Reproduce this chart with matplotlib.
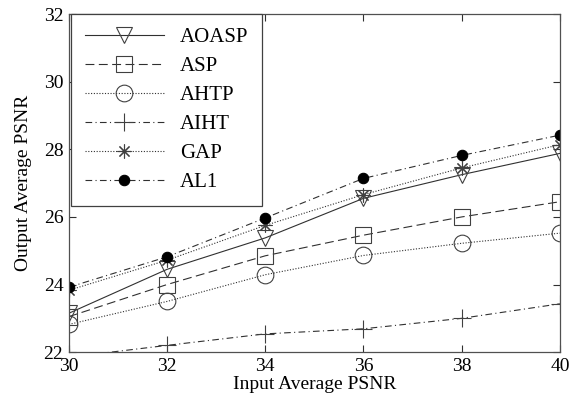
import matplotlib
matplotlib.use("Agg")
import matplotlib.pyplot as plt

x = [30, 32, 34, 36, 38, 40]
AOASP = [23.15, 24.45, 25.38, 26.55, 27.25, 27.88]
ASP = [23.05, 24.0, 24.85, 25.46, 26.0, 26.45]
AHTP = [22.82, 23.5, 24.29, 24.86, 25.22, 25.52]
AIHT = [21.85, 22.2, 22.54, 22.69, 23.0, 23.43]
GAP = [23.83, 24.72, 25.75, 26.66, 27.45, 28.14]
AL1 = [23.92, 24.82, 25.97, 27.14, 27.82, 28.42]
labels = ["AOASP", "ASP", "AHTP", "AIHT", "GAP", "AL1"]
xticks = [30, 32, 34, 36, 38, 40]
yticks = [22, 24, 26, 28, 30, 32]

plt.rcParams['font.family'] = ['Liberation Serif', 'DejaVu Serif']
plt.rcParams['font.size'] = 14

fig = plt.figure(figsize=(5.69, 3.93), dpi=100)
ax = fig.add_axes([0.121, 0.104, 0.863, 0.86])

lc = '#303030'
mc = '#404040'
styles = [
    dict(ls='-', marker='v', ms=12, mfc='none'),
    dict(ls=(0, (8, 4)), marker='s', ms=12, mfc='none'),
    dict(ls=(0, (1, 1.5)), marker='o', ms=12, mfc='none'),
    dict(ls=(0, (6, 3, 1, 3)), marker='+', ms=12.5, mfc='none'),
    dict(ls=(0, (1, 1.5)), marker=(8, 2, 0), ms=10, mfc='none'),
    dict(ls=(0, (6, 3, 1, 3)), marker='o', ms=7.5, mfc='black', mec='black'),
]
series = [AOASP, ASP, AHTP, AIHT, GAP, AL1]
for ys, lab, st in zip(series, labels, styles):
    kw = dict(color=lc, lw=0.8, mew=0.8)
    if 'mec' not in st:
        kw['mec'] = mc
    kw.update(st)
    ax.plot(x, ys, label=lab, clip_on=True, **kw)

ax.set_xlim(30, 40)
ax.set_ylim(22, 32)
ax.set_xticks(xticks)
ax.set_yticks(yticks)
ax.tick_params(direction='in', length=5, width=0.8, top=True, right=True, labelsize=14, pad=4, colors='#303030', labelcolor='black')
for s in ax.spines.values():
    s.set_linewidth(0.9)
    s.set_color('#505050')
ax.set_xlabel("Input Average PSNR", fontsize=14, labelpad=1)
ax.set_ylabel("Output Average PSNR", fontsize=14, labelpad=8)

leg = ax.legend(loc='upper left', bbox_to_anchor=(0.005, 1.0), fancybox=False, edgecolor='#404040',
                framealpha=1, fontsize=15, handlelength=3.8, handletextpad=0.75,
                labelspacing=0.45, borderpad=0.65, borderaxespad=0)
leg.get_frame().set_linewidth(0.9)

fig.savefig("out.png", dpi=100)
